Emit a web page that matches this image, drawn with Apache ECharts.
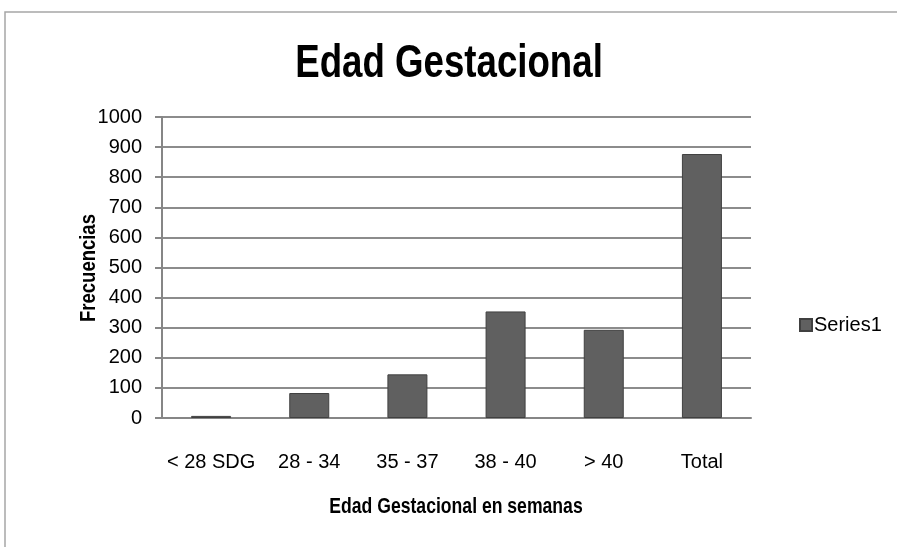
<!DOCTYPE html>
<html>
<head>
<meta charset="utf-8">
<script src="https://cdn.jsdelivr.net/npm/echarts@6/dist/echarts.min.js"></script>
<style>html,body{margin:0;padding:0;background:#fff;}#c{width:897px;height:547px;}</style>
</head>
<body>
<div id="c"></div>
<script>
var categories = ['< 28 SDG', '28 - 34', '35 - 37', '38 - 40', '> 40', 'Total'];
var seriesName = 'Series1';
var values = [7, 83, 145, 354, 293, 877];
var yTicks = [0, 100, 200, 300, 400, 500, 600, 700, 800, 900, 1000];
var titleText = 'Edad Gestacional';
var xName = 'Edad Gestacional en semanas';
var yName = 'Frecuencias';

var chart = echarts.init(document.getElementById('c'));
chart.setOption({
  animation: false,
  backgroundColor: '#ffffff',
  graphic: [
    {
      type: 'rect',
      shape: { x: 5, y: 12, width: 920, height: 560 },
      style: { fill: 'none', stroke: '#a6a6a6', lineWidth: 1.5 },
      silent: true
    },
    {
      type: 'text',
      x: 449, y: 64,
      scaleX: 0.78,
      style: { text: titleText, fontFamily: 'Liberation Sans', fontWeight: 'bold', fontSize: 47, fill: '#000', align: 'center', verticalAlign: 'middle' }
    },
    {
      type: 'text',
      x: 456, y: 507,
      scaleX: 0.8,
      style: { text: xName, fontFamily: 'Liberation Sans', fontWeight: 'bold', fontSize: 22, fill: '#000', align: 'center', verticalAlign: 'middle' }
    },
    {
      type: 'text',
      x: 89, y: 268,
      rotation: Math.PI / 2,
      scaleX: 0.84,
      style: { text: yName, fontFamily: 'Liberation Sans', fontWeight: 'bold', fontSize: 22, fill: '#000', align: 'center', verticalAlign: 'middle' }
    }
  ],
  legend: {
    data: [seriesName],
    left: 794,
    top: 310,
    orient: 'vertical',
    icon: 'rect',
    itemWidth: 12,
    itemHeight: 12,
    itemGap: 6,
    textStyle: { fontFamily: 'Liberation Sans', fontSize: 20, color: '#000', padding: [0, 0, 0, -3] }
  },
  grid: { left: 162, right: 146, top: 117, bottom: 129 },
  xAxis: {
    type: 'category',
    data: categories,
    axisLine: { lineStyle: { color: '#868686', width: 2 } },
    axisTick: { show: false },
    axisLabel: { interval: 0, margin: 34, fontFamily: 'Liberation Sans', fontSize: 20, color: '#000' }
  },
  yAxis: {
    type: 'value',
    min: yTicks[0],
    max: yTicks[yTicks.length - 1],
    interval: 100,
    axisLine: { show: true, lineStyle: { color: '#868686', width: 2 } },
    axisTick: { show: true, inside: false, length: 7, lineStyle: { color: '#868686', width: 2 } },
    axisLabel: { margin: 20, fontFamily: 'Liberation Sans', fontSize: 20, color: '#000', formatter: function (v) { return String(v); } },
    splitLine: { show: true, lineStyle: { color: '#8c8c8c', width: 2 } }
  },
  series: [{
    name: seriesName,
    type: 'bar',
    data: values,
    barWidth: 40,
    itemStyle: { color: '#606060', borderColor: '#404040', borderWidth: 1 }
  }]
});
</script>
</body>
</html>
